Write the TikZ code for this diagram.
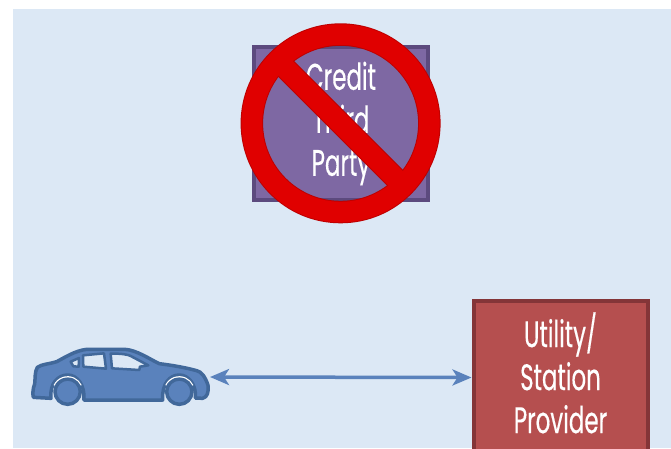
\documentclass[tikz,border=0pt]{standalone}
\usepackage{fontspec}
\usepackage{xcolor}
\usetikzlibrary{arrows.meta, positioning}
\setmainfont[FakeStretch=0.62,FakeBold=0.3]{Poppins}
\definecolor{panelblue}{HTML}{DCE8F5}
\definecolor{carblue}{HTML}{5A82BC}
\definecolor{cardark}{HTML}{41689A}
\definecolor{boxpurple}{HTML}{7E68A3}
\definecolor{boxpurpled}{HTML}{5C4A7E}
\definecolor{boxred}{HTML}{B54F4F}
\definecolor{boxredd}{HTML}{843538}
\definecolor{signred}{HTML}{E00000}
\definecolor{signredd}{HTML}{BE0000}
\tikzset{
  party/.style={minimum width=174pt, minimum height=153pt, line width=4pt, inner sep=0pt,
    align=center, text=white, font=\fontsize{37}{43}\selectfont},
  link/.style={{Stealth[length=19pt,width=16pt,inset=5pt]}-{Stealth[length=19pt,width=16pt,inset=5pt]},
    line width=3.5pt, color=carblue},
  carline/.style={line width=3.5pt, color=cardark, line join=round},
}

\begin{document}
\begin{tikzpicture}[x=1pt,y=-1pt]
\useasboundingbox (0,0) rectangle (671,448);
\fill[panelblue] (13,9) rectangle (671,448);
\clip (0,0) rectangle (671,448);

\node[party, draw=boxpurpled, fill=boxpurple] (credit) at (341,123.5) {Credit\\Third\\Party};
\node[party, draw=boxredd, fill=boxred] (utility) at (560.5,377.5) {Utility/\\Station\\Provider\vphantom{y}};

% no sign on top of the credit box
\begin{scope}[shift={(340.6,123.3)}]
\draw[signredd, line width=2pt] (0,0) circle (99) (0,0) circle (78.5);
\draw[signredd, line width=2pt, rotate=-45] (-88,-10.2) rectangle (88,10.2);
\fill[signred, even odd rule] (0,0) circle (99) (0,0) circle (78.5);
\fill[signred, rotate=-45] (-88,-10.2) rectangle (88,10.2);
\end{scope}

% car, traced in 3x units
\begin{scope}[shift={(0,320)},x=0.3333pt,y=-0.3333pt]
\filldraw[carline, fill=carblue] (100,232) -- (153,235) .. controls (148,190) and (175,165) .. (203,165)
  .. controls (232,165) and (255,195) .. (252,240) -- (488,240)
  .. controls (485,190) and (510,165) .. (538,165) .. controls (566,165) and (590,195) .. (586,234)
  -- (608,235) .. controls (622,232) and (627,215) .. (624,195)
  .. controls (615,170) and (605,155) .. (590,152) .. controls (555,142) and (510,135) .. (478,131)
  .. controls (450,118) and (410,90) .. (375,88) -- (260,88)
  .. controls (225,92) and (195,112) .. (170,125) .. controls (150,132) and (125,132) .. (112,142)
  .. controls (104,155) and (106,175) .. (104,192) .. controls (98,205) and (98,225) .. (100,232) -- cycle;
\filldraw[carline, fill=carblue] (203,215) circle (38);
\filldraw[carline, fill=carblue] (538,215) circle (38);
\draw[white, line width=1pt] ([shift={(203,215)}]205:45) arc (205:335:45);
\draw[white, line width=1pt] ([shift={(538,215)}]205:45) arc (205:335:45);
% windows
\filldraw[line width=2.5pt, color=cardark, fill=panelblue, line join=round] (212,125) -- (237,114) -- (236,140) -- (220,139) -- cycle;
\filldraw[line width=2.5pt, color=cardark, fill=panelblue, line join=round] (249,106) -- (312,100) -- (318,146) -- (250,140) -- cycle;
\filldraw[line width=2.5pt, color=cardark, fill=panelblue, line join=round] (332,101) .. controls (365,100) and (385,104) .. (392,108) -- (445,136) -- (420,140) -- (418,150) -- (336,145) -- cycle;
\end{scope}

\coordinate (car) at (210,377);
\draw[link] (car) -- (utility.west);
\end{tikzpicture}
\end{document}
